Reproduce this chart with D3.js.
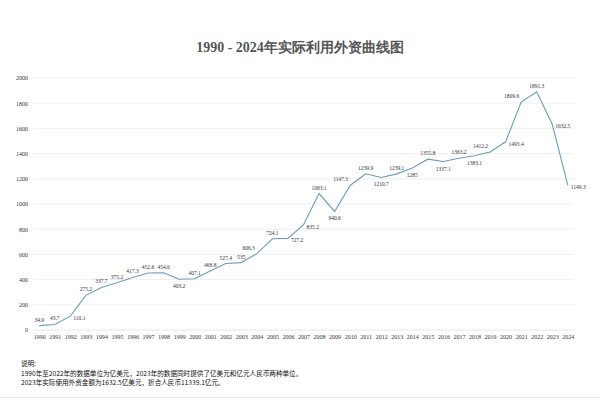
<!DOCTYPE html>
<html>
<head>
<meta charset="utf-8">
<script src="https://cdn.jsdelivr.net/npm/d3@7"></script>
<style>
  body { margin: 0; background: #fff; }
  svg { display: block; }
  .serif { font-family: "Liberation Serif", "DejaVu Serif", serif; }
</style>
</head>
<body>
<svg id="chart" width="600" height="400"></svg>
<script>
// data
const years   = ["1990","1991","1992","1993","1994","1995","1996","1997","1998","1999",
                 "2000","2001","2002","2003","2004","2005","2006","2007","2008","2009",
                 "2010","2011","2012","2013","2014","2015","2016","2017","2018","2019",
                 "2020","2021","2022","2023","2024"];
const fdi     = [34.9, 43.7, 110.1, 275.2, 337.7, 375.2, 417.3, 452.6, 454.6, 403.2,
                 407.1, 468.8, 527.4, 535, 606.3, 724.1, 727.2, 835.2, 1083.1, 940.6,
                 1147.3, 1239.9, 1210.7, 1239.1, 1285, 1355.8, 1337.1, 1363.2, 1383.1, 1412.2,
                 1493.4, 1809.6, 1891.3, 1632.5, 1149.3];
// where each value label sits: a = above, b = below, r = right, l = above-left
const labelPos = ["a","a","r","a","a","a","a","a","a","b",
                  "a","a","a","a","l","a","r","r","a","b",
                  "l","a","b","a","b","a","b","a","b","l",
                  "r","l","a","r","r"];
const yTicks  = [0, 200, 400, 600, 800, 1000, 1200, 1400, 1600, 1800, 2000];
const titleText = "1990 - 2024年实际利用外资曲线图";
const notes   = ["说明:",
                 "1990年至2022年的数据单位为亿美元，2023年的数据同时提供了亿美元和亿元人民币两种单位。",
                 "2023年实际使用外资金额为1632.5亿美元，折合人民币11339.1亿元。"];

const svg = d3.select("#chart");

const plotL = 33, plotR = 574, plotT = 78, plotB = 330;

const x = d3.scalePoint().domain(years).range([plotL, plotR]).padding(0.4);
const y = d3.scaleLinear().domain([0, 2000]).range([plotB, plotT]);

// title
svg.append("text")
    .attr("class", "serif")
    .attr("x", 300).attr("y", 52)
    .attr("text-anchor", "middle")
    .style("font-size", "14px")
    .style("font-weight", "bold")
    .attr("fill", "#555")
    .text(titleText);

// gridlines
svg.append("g")
    .selectAll("line")
    .data(yTicks)
    .enter()
        .append("line")
            .attr("x1", plotL).attr("x2", plotR)
            .attr("y1", d => y(d)).attr("y2", d => y(d))
            .attr("stroke", d => d === 0 ? "#e6e6e6" : "#efefef")
            .attr("stroke-width", 1);

// y axis labels
const yAxis = svg.append("g")
    .attr("transform", "translate(" + (plotL - 5) + ",0)")
    .call(d3.axisLeft(y).tickValues(yTicks).tickFormat(d3.format("d")).tickSize(0).tickPadding(0));
yAxis.attr("font-family", null);
yAxis.select(".domain").remove();
yAxis.selectAll("text")
    .attr("class", "serif")
    .style("font-size", "6px")
    .attr("fill", "#333");

// x axis labels
const xAxis = svg.append("g")
    .attr("transform", "translate(0," + (plotB + 5) + ")")
    .call(d3.axisBottom(x).tickSize(0).tickPadding(0));
xAxis.attr("font-family", null);
xAxis.select(".domain").remove();
xAxis.selectAll("text")
    .attr("class", "serif")
    .style("font-size", "6px")
    .attr("fill", "#333");

// line
const line = d3.line()
    .x((d, i) => x(years[i]))
    .y(d => y(d));

svg.append("path")
    .datum(fdi)
    .attr("d", line)
    .attr("fill", "none")
    .attr("stroke", "#6b9db6")
    .attr("stroke-width", 1.1);

// value labels
svg.append("g")
    .selectAll("text")
    .data(fdi)
    .enter()
        .append("text")
            .attr("class", "serif")
            .attr("x", (d, i) => {
                const p = labelPos[i];
                if (p === "r") return x(years[i]) + 3;
                if (p === "l") return x(years[i]) - 2;
                return x(years[i]);
            })
            .attr("y", (d, i) => {
                const p = labelPos[i];
                if (p === "b") return y(d) + 9;
                if (p === "r") return y(d) + 4;
                return y(d) - 4;
            })
            .attr("text-anchor", (d, i) => {
                const p = labelPos[i];
                if (p === "r") return "start";
                if (p === "l") return "end";
                return "middle";
            })
            .style("font-size", "5.5px")
            .attr("fill", "#333")
            .text(d => d);

// notes
svg.append("g")
    .selectAll("text")
    .data(notes)
    .enter()
        .append("text")
            .attr("x", 21)
            .attr("y", (d, i) => 366 + i * 9.5)
            .style("font-family", "'Noto Sans CJK SC', sans-serif")
            .style("font-size", "6.6px")
            .attr("fill", "#111")
            .text(d => d);

// bottom rule
svg.append("line")
    .attr("x1", 0).attr("x2", 600)
    .attr("y1", 397.5).attr("y2", 397.5)
    .attr("stroke", "#e8e8e8");
</script>
</body>
</html>
